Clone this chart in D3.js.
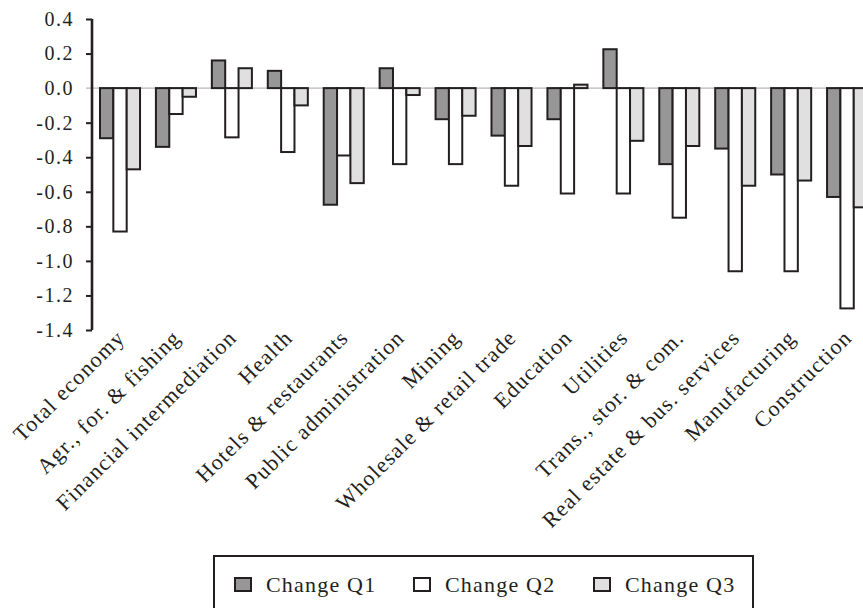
<!DOCTYPE html>
<html>
<head>
<meta charset="utf-8">
<script src="https://cdn.jsdelivr.net/npm/d3@7"></script>
<style>
  html, body { margin: 0; padding: 0; background: #fff; overflow: hidden; }
  svg { display: block; }
  text { font-family: "Liberation Serif", "DejaVu Serif", serif; fill: #231f20; }
</style>
</head>
<body>
<svg id="chart" width="863" height="608"></svg>
<script>
// Sectors, in drawing order
const categories = [
  "Total economy", "Agr., for. & fishing", "Financial intermediation", "Health",
  "Hotels & restaurants", "Public administration", "Mining", "Wholesale & retail trade",
  "Education", "Utilities", "Trans., stor. & com.", "Real estate & bus. services",
  "Manufacturing", "Construction"
];

// Quarterly changes per sector
const changeQ1 = [-0.29, -0.34, 0.16, 0.10, -0.675, 0.115, -0.18, -0.275, -0.18, 0.225, -0.44, -0.35, -0.50, -0.63];
const changeQ2 = [-0.83, -0.15, -0.285, -0.37, -0.39, -0.44, -0.44, -0.565, -0.61, -0.61, -0.75, -1.06, -1.06, -1.275];
const changeQ3 = [-0.47, -0.05, 0.115, -0.10, -0.55, -0.04, -0.16, -0.335, 0.02, -0.305, -0.335, -0.565, -0.535, -0.69];

const seriesNames = ["Change Q1", "Change Q2", "Change Q3"];
const seriesValues = [changeQ1, changeQ2, changeQ3];
const seriesFill = ["#979797", "#ffffff", "#e0e0e0"];

const yTicks = [0.4, 0.2, 0.0, -0.2, -0.4, -0.6, -0.8, -1.0, -1.2, -1.4];

const ink = "#231f20";
const svg = d3.select("#chart");

const axisX = 92;
const y = d3.scaleLinear().domain([-1.4, 0.4]).range([330, 19]);

const x = d3.scaleBand()
  .domain(categories)
  .range([axisX, axisX + 14 * 55.9 + 0.5])
  .paddingInner(0.284)
  .paddingOuter(0.143);

const xs = d3.scaleBand()
  .domain(seriesNames)
  .range([0, x.bandwidth()]);

// zero reference line
svg.append("line")
  .attr("x1", axisX - 6).attr("x2", 900)
  .attr("y1", y(0)).attr("y2", y(0))
  .attr("stroke", "#b8b8b8").attr("stroke-width", 1.2);

// bars
const rows = [];
categories.forEach((c, i) => {
  seriesNames.forEach((s, j) => rows.push({ c, s, v: seriesValues[j][i], fill: seriesFill[j] }));
});

svg.append("g").selectAll("rect")
  .data(rows)
  .join("rect")
  .attr("x", d => x(d.c) + xs(d.s))
  .attr("width", xs.bandwidth())
  .attr("y", d => y(Math.max(0, d.v)))
  .attr("height", d => Math.abs(y(d.v) - y(0)))
  .attr("fill", d => d.fill)
  .attr("stroke", ink)
  .attr("stroke-width", 2);

// value axis
const yAxis = d3.axisLeft(y)
  .tickValues(yTicks)
  .tickSize(6)
  .tickPadding(12)
  .tickFormat(d3.format(".1f"));

const gy = svg.append("g")
  .attr("transform", `translate(${axisX},0)`)
  .call(yAxis);
gy.select(".domain").attr("stroke", ink).attr("stroke-width", 2.6).attr("d", `M0,${y(0.4)}V${y(-1.4)}`);
gy.selectAll(".tick line").attr("stroke", ink).attr("stroke-width", 2)
  .attr("display", d => d === 0 ? "none" : null);
gy.selectAll(".tick text")
  .attr("font-size", 20)
  .attr("letter-spacing", 1.5)
  .attr("font-family", "Liberation Serif, serif")
  .attr("fill", ink)
  .text(d => d3.format(".1f")(d).replace("−", "-"));

// category labels
svg.append("g").selectAll("text")
  .data(categories)
  .join("text")
  .attr("transform", d => `translate(${x(d) + x.bandwidth() / 2 + 6},339) rotate(-45)`)
  .attr("text-anchor", "end")
  .attr("font-size", 22)
  .attr("letter-spacing", 1.2)
  .text(d => d);

// legend
const legend = svg.append("g");
legend.append("rect")
  .attr("x", 214).attr("y", 556)
  .attr("width", 539).attr("height", 80)
  .attr("fill", "none").attr("stroke", ink).attr("stroke-width", 2);

const legendX = d3.scaleOrdinal().domain(seriesNames).range([235, 414, 594]);
const items = legend.selectAll("g.item")
  .data(seriesNames)
  .join("g")
  .attr("class", "item")
  .attr("transform", d => `translate(${legendX(d)},0)`);

items.append("rect")
  .attr("x", 0).attr("y", 578)
  .attr("width", 16).attr("height", 13)
  .attr("fill", (d, i) => seriesFill[i])
  .attr("stroke", ink).attr("stroke-width", 2);

items.append("text")
  .attr("x", 31).attr("y", 592)
  .attr("font-size", 22)
  .attr("letter-spacing", 1.2)
  .text(d => d);
</script>
</body>
</html>
